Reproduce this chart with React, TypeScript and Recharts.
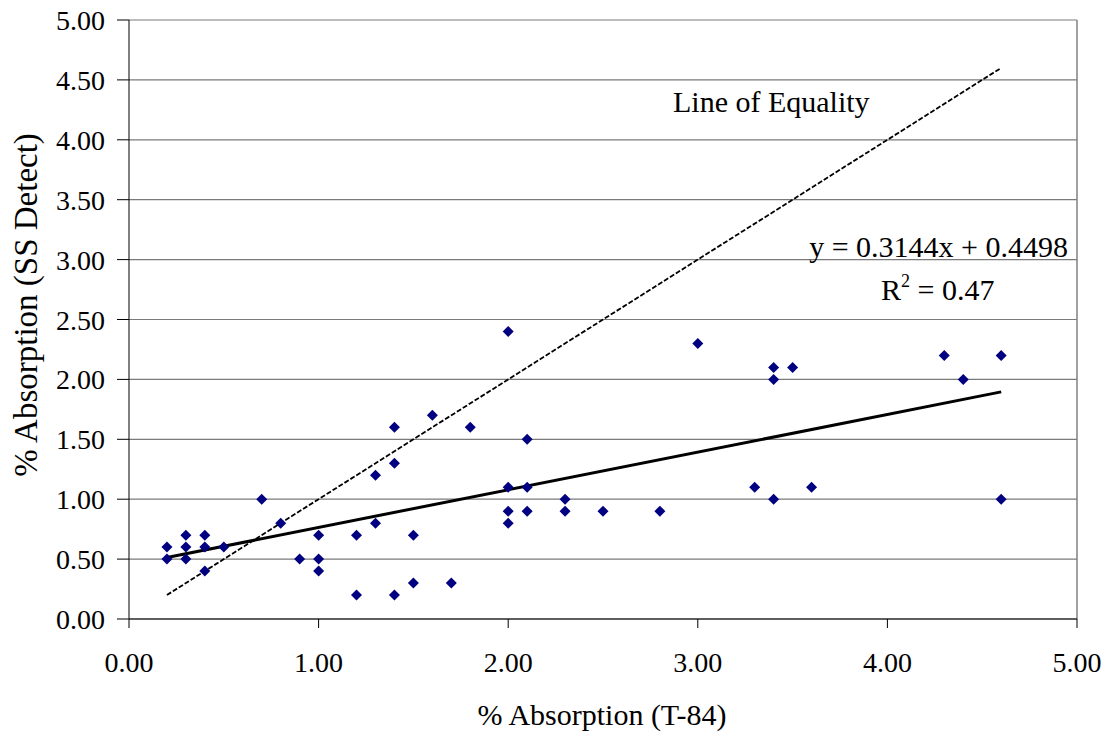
import React from 'react';
import { ScatterChart, Scatter, XAxis, YAxis, CartesianGrid, ReferenceLine } from 'recharts';

// Paired measurements: % absorption by T-84 (x) and by SS Detect (y)
const t84 = [
  0.2, 0.2, 0.3, 0.3, 0.3, 0.4, 0.4, 0.4, 0.5, 0.7, 0.8, 0.9, 1.0, 1.0, 1.0, 1.2, 1.2,
  1.3, 1.3, 1.4, 1.4, 1.4, 1.5, 1.5, 1.6, 1.7, 1.8, 2.0, 2.0, 2.0, 2.0, 2.1, 2.1, 2.1,
  2.3, 2.3, 2.5, 2.8, 3.0, 3.3, 3.4, 3.4, 3.4, 3.5, 3.6, 4.3, 4.4, 4.6, 4.6,
];
const ssDetect = [
  0.6, 0.5, 0.7, 0.6, 0.5, 0.7, 0.6, 0.4, 0.6, 1.0, 0.8, 0.5, 0.7, 0.5, 0.4, 0.7, 0.2,
  1.2, 0.8, 1.6, 1.3, 0.2, 0.7, 0.3, 1.7, 0.3, 1.6, 2.4, 1.1, 0.9, 0.8, 1.5, 1.1, 0.9,
  1.0, 0.9, 0.9, 0.9, 2.3, 1.1, 2.1, 2.0, 1.0, 2.1, 1.1, 2.2, 2.0, 2.2, 1.0,
];

// Linear fit reported on the chart
const trendSlope = 0.3144;
const trendIntercept = 0.4498;
const trendR2 = 0.47;
const fitRange = [0.2, 4.6];

const xTicks = [0, 1, 2, 3, 4, 5];
const yTicks = [0, 0.5, 1, 1.5, 2, 2.5, 3, 3.5, 4, 4.5, 5];

const points = t84.map((x, i) => ({ x, y: ssDetect[i] }));
const trendSegment = fitRange.map((x) => ({ x, y: trendSlope * x + trendIntercept }));
const equalitySegment = fitRange.map((x) => ({ x, y: x }));

const FONT = '"Liberation Serif", "Times New Roman", serif';

const Diamond = (props: any) => {
  const { cx, cy } = props;
  const h = 5.5;
  return (
    <polygon
      points={`${cx},${cy - h} ${cx + h},${cy} ${cx},${cy + h} ${cx - h},${cy}`}
      fill="#000080"
    />
  );
};

const YTick = (props: any) => {
  const { x, y, payload } = props;
  return (
    <text x={x} y={y} dy={10} textAnchor="end" fontSize={28} fontFamily={FONT} fill="#000">
      {Number(payload.value).toFixed(2)}
    </text>
  );
};

const XTick = (props: any) => {
  const { x, y, payload } = props;
  return (
    <text x={x} y={y} dy={20} textAnchor="middle" fontSize={28} fontFamily={FONT} fill="#000">
      {Number(payload.value).toFixed(2)}
    </text>
  );
};

export default function App() {
  return (
    <div style={{ position: 'absolute', left: 0, top: 0, width: 1112, height: 736, background: '#fff' }}>
      <ScatterChart width={1112} height={736} margin={{ top: 20, right: 35, bottom: 0, left: 0 }}>
        <CartesianGrid vertical={false} stroke="#7a7a7a" strokeWidth={1.2} />
        <XAxis
          type="number"
          dataKey="x"
          domain={[0, 5]}
          ticks={xTicks}
          height={117}
          tickSize={9}
          tickMargin={24}
          stroke="#000"
          tick={<XTick />}
          allowDataOverflow
        />
        <YAxis
          type="number"
          dataKey="y"
          domain={[0, 5]}
          ticks={yTicks}
          width={129}
          tickSize={12}
          tickMargin={12}
          stroke="#000"
          tick={<YTick />}
          allowDataOverflow
        />
        <ReferenceLine x={5} stroke="#808080" strokeWidth={1.5} />
        <Scatter data={points} shape={<Diamond />} isAnimationActive={false} />
        <ReferenceLine
          segment={equalitySegment}
          stroke="#000"
          strokeWidth={1.8}
          strokeDasharray="5 2"
        />
        <ReferenceLine segment={trendSegment} stroke="#000" strokeWidth={3} />
        <text x={673} y={112} fontSize={30} fontFamily={FONT} fill="#000">
          Line of Equality
        </text>
        <text x={1068} y={257} textAnchor="end" fontSize={30} fontFamily={FONT} fill="#000">
          {`y = ${trendSlope}x + ${trendIntercept}`}
        </text>
        <text x={881} y={300} fontSize={30} fontFamily={FONT} fill="#000">
          R<tspan fontSize={18} dy={-13}>2</tspan>
          <tspan dy={13}>{` = ${trendR2}`}</tspan>
        </text>
        <text x={602} y={725} textAnchor="middle" fontSize={30} fontFamily={FONT} fill="#000">
          % Absorption (T-84)
        </text>
        <text
          x={37}
          y={305}
          transform="rotate(-90 37 305)"
          textAnchor="middle"
          fontSize={33}
          fontFamily={FONT}
          fill="#000"
        >
          % Absorption (SS Detect)
        </text>
      </ScatterChart>
    </div>
  );
}
